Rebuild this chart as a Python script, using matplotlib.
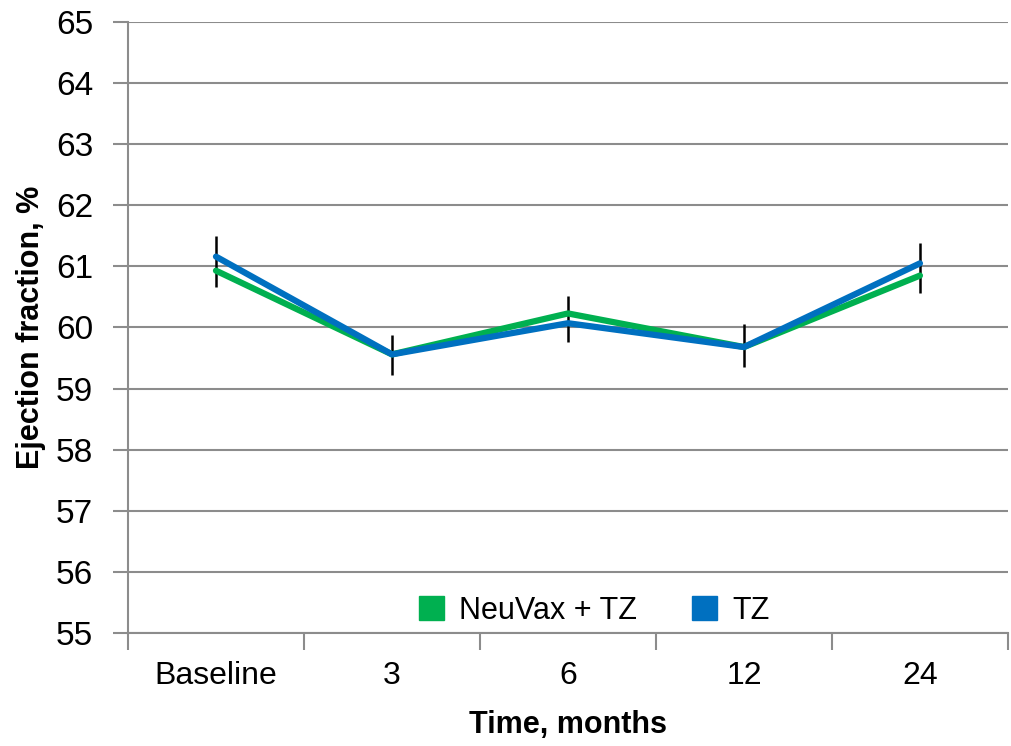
import numpy as np
import matplotlib.pyplot as plt
from matplotlib.patches import Patch

plt.rcParams['font.family'] = ['Liberation Sans', 'DejaVu Sans']

categories = ["Baseline", "3", "6", "12", "24"]
neuvax_tz = [60.93, 59.56, 60.23, 59.68, 60.85]
tz_only = [61.16, 59.56, 60.07, 59.68, 61.05]
err_center = [61.08, 59.55, 60.14, 59.70, 60.97]
err_half = [0.42, 0.33, 0.38, 0.35, 0.41]

green = "#00B050"
blue = "#0070C0"
grid_gray = "#8C8C8C"

fig = plt.figure(figsize=(10.11, 7.46), dpi=100)
ax = fig.add_axes([0.1266, 0.1515, 0.8704, 0.819])

x = np.arange(len(categories))
ax.errorbar(x, err_center, yerr=err_half, fmt="none", ecolor="black",
            elinewidth=1.8, capsize=0, zorder=2)
ax.plot(x, neuvax_tz, color=green, linewidth=4.5, solid_capstyle="round", zorder=3)
ax.plot(x, tz_only, color=blue, linewidth=4.5, solid_capstyle="round", zorder=4)

ax.set_xlim(-0.5, len(categories) - 0.5)
ax.set_ylim(55, 65)
ax.set_yticks(np.arange(55, 66, 1))
ax.yaxis.grid(True, color=grid_gray, linewidth=1.5)
ax.set_axisbelow(True)

ax.set_xticks(x)
ax.set_xticklabels(categories, fontsize=23)
ax.set_xticks(np.arange(-0.5, len(categories), 1), minor=True)
ax.tick_params(axis="x", which="major", length=0, pad=20)
ax.tick_params(axis="x", which="minor", length=12, width=1.5, color=grid_gray)
ax.tick_params(axis="y", length=11, width=1.5, color=grid_gray, labelsize=24, pad=14)

for s in ["top", "right"]:
    ax.spines[s].set_visible(False)
for s in ["left", "bottom"]:
    ax.spines[s].set_color(grid_gray)
    ax.spines[s].set_linewidth(1.5)

ax.set_ylabel("Ejection fraction, %", fontsize=22, fontweight="bold", labelpad=7)
ax.set_xlabel("Time, months", fontsize=22, fontweight="bold", labelpad=14)

handles = [Patch(color=green, label="NeuVax + TZ"), Patch(color=blue, label="TZ")]
ax.legend(handles=handles, loc="lower center", bbox_to_anchor=(0.53, -0.033), ncol=2,
          frameon=False, fontsize=22, handlelength=0.8, handleheight=0.8,
          columnspacing=1.8, handletextpad=0.5)

fig.savefig("out.png", dpi=100)
